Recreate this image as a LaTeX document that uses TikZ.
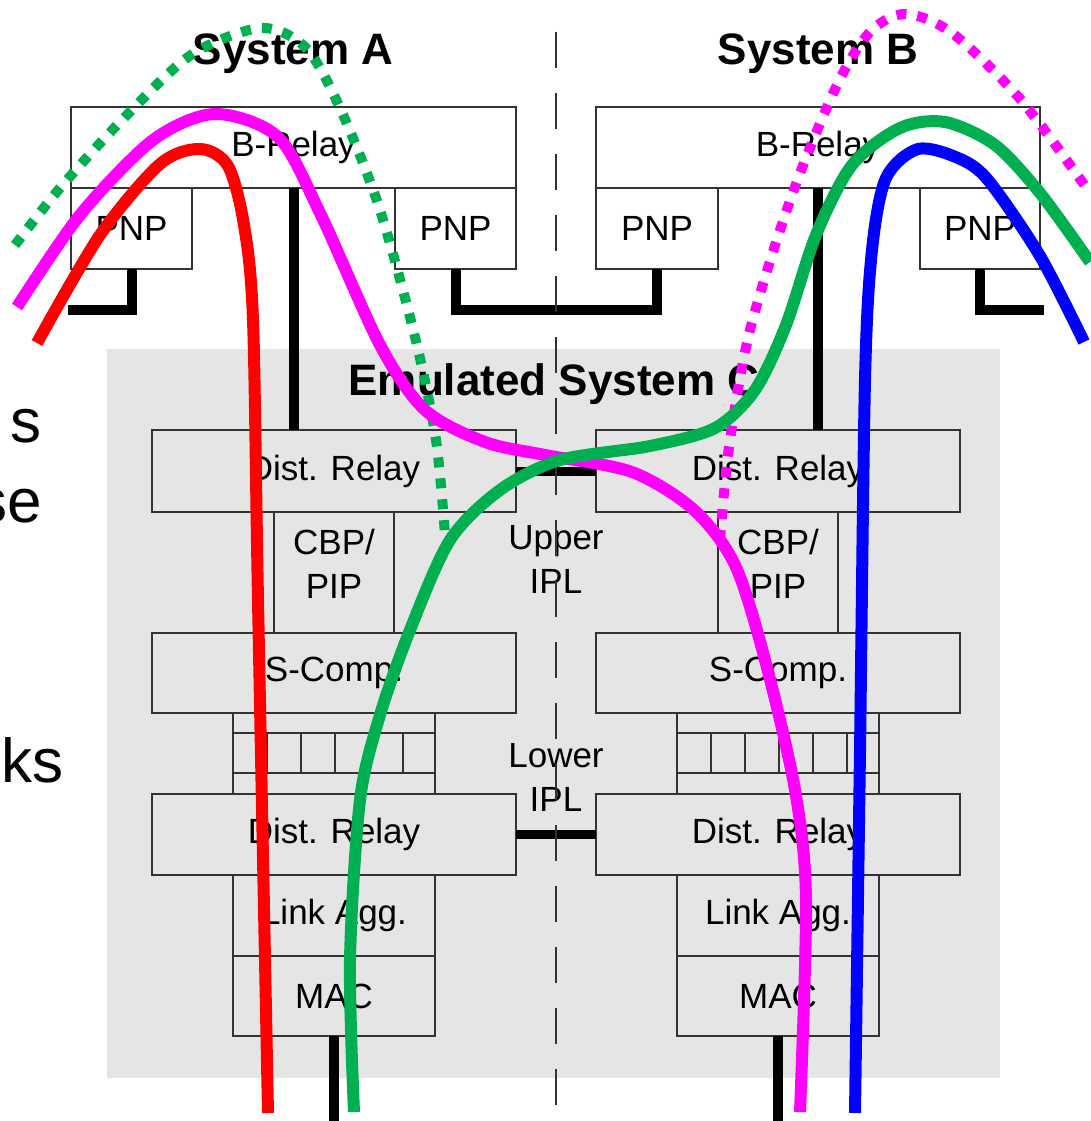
\documentclass[tikz,border=0pt]{standalone}
\usepackage{fontspec}
\setmainfont{Liberation Sans}
\usetikzlibrary{positioning}
\definecolor{emuGray}{HTML}{E5E5E5}
\definecolor{boxLine}{HTML}{333333}
\definecolor{pRed}{HTML}{FF0000}
\definecolor{pMag}{HTML}{FF00FF}
\definecolor{pGreen}{HTML}{00B050}
\definecolor{pBlue}{HTML}{0000FF}

\begin{document}
\begin{tikzpicture}[x=1pt, y=-1pt,
  rule/.style={draw=boxLine,line width=1.6pt},
  box/.style={rule,inner sep=0pt,outer sep=0pt,align=center,font=\fontsize{35}{44}\selectfont},
  title/.style={font=\fontsize{44}{50}\selectfont\bfseries,anchor=base},
  slide/.style={font=\fontsize{62}{72}\selectfont,anchor=base east,inner sep=0pt},
  link/.style={line width=10pt},
  route/.style={line width=12pt},
  dotroute/.style={line width=10pt,dash pattern=on 10pt off 11pt}]
  \fill[white] (0,0) rectangle (1090,1121);
  \useasboundingbox (0,0) rectangle (1090,1121);
  \fill[emuGray] (107,349) rectangle (1000,1078);
  % cut-off slide text
  \node[slide] (txt1) at (42,442) {s};
  \node[slide] (txt2) at (42,522) {se};
  \node[slide] (txt3) at (64,782) {ks};
  % system A
  \node[title] (sysA) at (293,65) {System A};
  \node[box,fill=white,minimum width=445pt,minimum height=81pt,anchor=north west] (brelayA) at (71,107) {B-Relay};
  \node[box,minimum width=121pt,minimum height=81pt,below right=0pt and 0pt of brelayA.south west] (pnpA1) {PNP};
  \node[box,minimum width=121pt,minimum height=81pt,below left=0pt and 0pt of brelayA.south east] (pnpA2) {PNP};
  % system B
  \node[title] (sysB) at (818,65) {System B};
  \node[box,fill=white,minimum width=444pt,minimum height=81pt,anchor=north west] (brelayB) at (596,107) {B-Relay};
  \node[box,minimum width=122pt,minimum height=81pt,below right=0pt and 0pt of brelayB.south west] (pnpB1) {PNP};
  \node[box,minimum width=120pt,minimum height=81pt,below left=0pt and 0pt of brelayB.south east] (pnpB2) {PNP};
  % emulated system C
  \node[title] (sysC) at (554,395) {Emulated System C};
  \node[box,minimum width=364pt,minimum height=82pt,anchor=north west] (distA) at (152,430) {Dist. Relay};
  \node[box,minimum width=120pt,minimum height=121pt,text depth=18pt,below right=0pt and 122pt of distA.south west] (cbpA) {CBP/\\PIP};
  \node[box,minimum width=364pt,minimum height=80pt,below=121pt of distA] (scompA) {S-Comp.};
  \node[box,minimum width=202pt,minimum height=81pt,below right=0pt and 81pt of scompA.south west] (queueA) {};
  \node[box,minimum width=364pt,minimum height=81pt,below=81pt of scompA] (ldistA) {Dist. Relay};
  \node[box,minimum width=202pt,minimum height=81pt,below right=0pt and 81pt of ldistA.south west] (laggA) {Link Agg.};
  \node[box,minimum width=202pt,minimum height=80pt,below=0pt of laggA] (macA) {MAC};
  \node[box,minimum width=364pt,minimum height=82pt,anchor=north west] (distB) at (596,430) {Dist. Relay};
  \node[box,minimum width=120pt,minimum height=121pt,text depth=18pt,below right=0pt and 122pt of distB.south west] (cbpB) {CBP/\\PIP};
  \node[box,minimum width=364pt,minimum height=80pt,below=121pt of distB] (scompB) {S-Comp.};
  \node[box,minimum width=202pt,minimum height=81pt,below right=0pt and 81pt of scompB.south west] (queueB) {};
  \node[box,minimum width=364pt,minimum height=81pt,below=81pt of scompB] (ldistB) {Dist. Relay};
  \node[box,minimum width=202pt,minimum height=81pt,below right=0pt and 81pt of ldistB.south west] (laggB) {Link Agg.};
  \node[box,minimum width=202pt,minimum height=80pt,below=0pt of laggB] (macB) {MAC};
  \foreach \q in {queueA,queueB}{
    \draw[rule] ([yshift=-20pt]\q.north west) -- ([yshift=-20pt]\q.north east);
    \draw[rule] ([yshift=21pt]\q.south west) -- ([yshift=21pt]\q.south east);
    \foreach \i in {1,...,5}
      \draw[rule] ([xshift=\i*34pt,yshift=-20pt]\q.north west) -- ([xshift=\i*34pt,yshift=21pt]\q.south west);
  }
  \node[font=\fontsize{35}{44}\selectfont,align=center] (upperIPL) at (556,559) {Upper\\IPL};
  \node[font=\fontsize{35}{44}\selectfont,align=center] (lowerIPL) at (556,777) {Lower\\IPL};
  % wiring
  \coordinate (endA) at (68,310);
  \coordinate (endB) at (1044,310);
  \coordinate (wireA) at (334,1121);
  \coordinate (wireB) at (778,1121);
  \draw[link] (brelayA.south) -- (brelayA.south |- distA.north);
  \draw[link] (brelayB.south) -- (brelayB.south |- distB.north);
  \draw[link] (pnpA1.south) |- (endA);
  \draw[link] (pnpA2.south) -- ++(0,41) -| (pnpB1.south);
  \draw[link] (pnpB2.south) |- (endB);
  \draw[line width=9pt] (distA.east) -- (distB.west);
  \draw[line width=9pt] (ldistA.east) -- (ldistB.west);
  \draw[link] (macA.south) -- (macA.south |- wireA);
  \draw[link] (macB.south) -- (macB.south |- wireB);
  \draw[boxLine,line width=2pt,dash pattern=on 36pt off 25pt] (556,32) -- (556,1121);
  % paths
  \draw[dotroute,pGreen] plot[smooth] coordinates {(15,245) (60,188) (122,120) (191,55) (261,28) (306,48) (340,108) (379,207) (415,337) (436,440) (445,535)};
  \draw[dotroute,pMag] plot[smooth] coordinates {(720,540) (729,447) (750,330) (792,195) (837,85) (870,32) (905,14) (952,33) (1021,100) (1090,193)};
  \draw[route,pRed] plot[smooth] coordinates {(37,343) (100,235) (160,164) (200,149) (228,166) (244,225) (253,320) (258,600) (268,1113)};
  \draw[route,pMag] plot[smooth] coordinates {(17,307) (80,215) (153,140) (215,114) (278,137) (320,213) (380,345) (425,410) (485,442) (545,455) (632,472) (694,510) (735,565) (765,660) (795,790) (806,900) (800,1112)};
  \draw[route,pGreen] plot[smooth] coordinates {(354,1112) (350,960) (360,800) (380,715) (410,630) (450,540) (500,490) (560,460) (650,446) (715,428) (755,390) (786,325) (816,235) (852,165) (900,128) (945,122) (995,145) (1040,193) (1090,262)};
  \draw[route,pBlue] plot[smooth] coordinates {(855,1113) (860,750) (865,380) (872,250) (886,178) (918,149) (958,158) (988,180) (1040,256) (1084,342)};
\end{tikzpicture}
\end{document}
